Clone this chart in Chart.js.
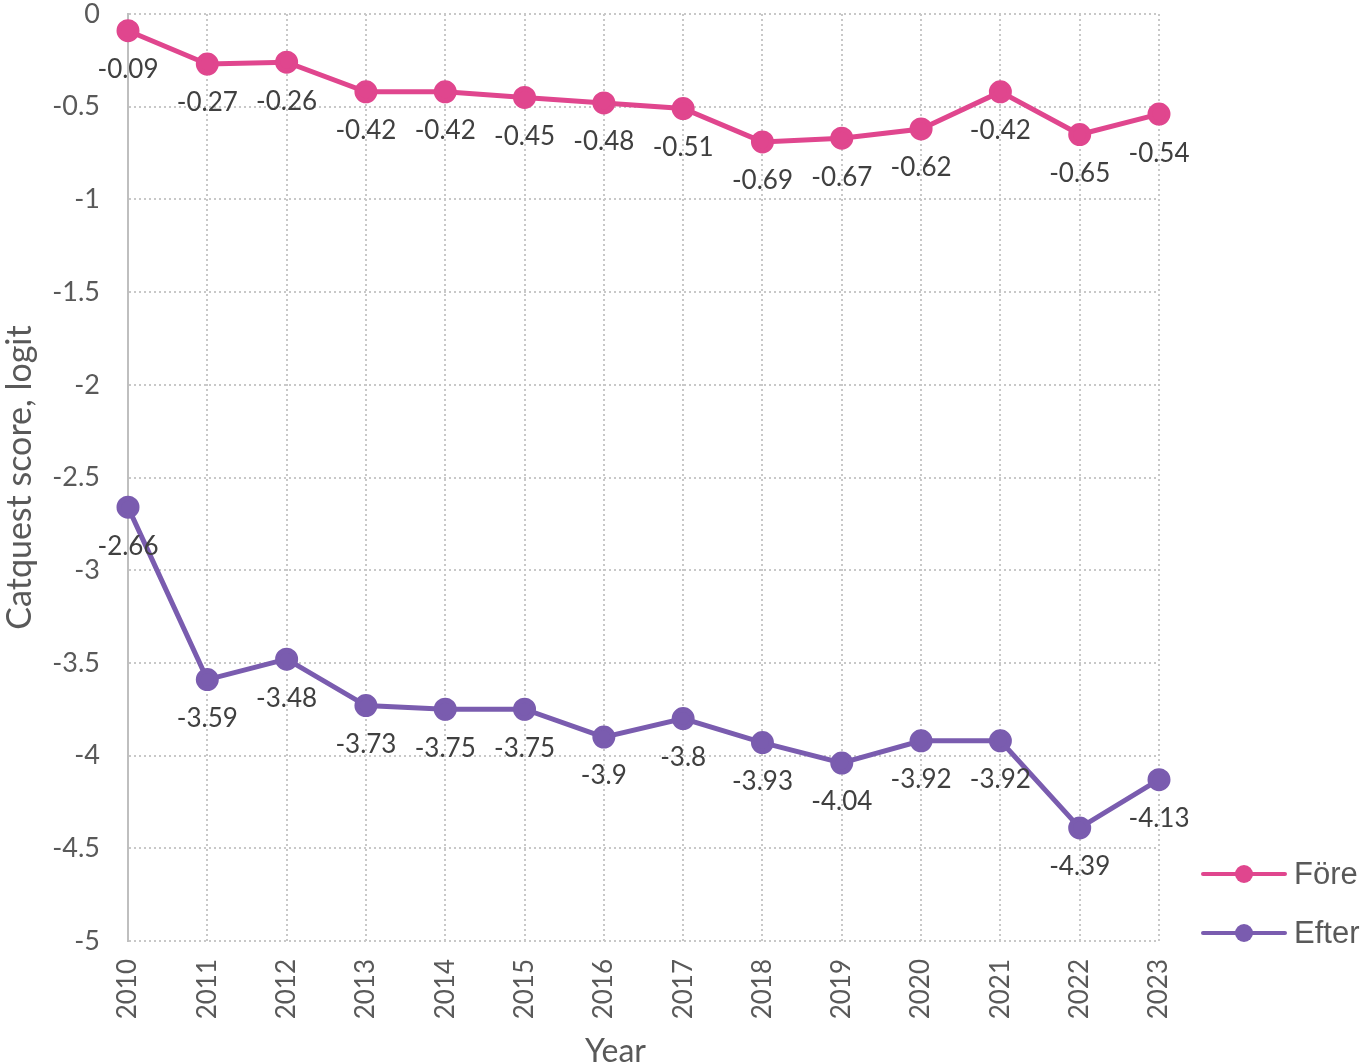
<!DOCTYPE html>
<html><head><meta charset="utf-8">
<script src="https://cdn.jsdelivr.net/npm/chart.js@4"></script>
<style>html,body{margin:0;padding:0;overflow:hidden;background:#fff}canvas{display:block}</style>
</head><body>
<canvas id="c" width="1366" height="1073"></canvas>
<script>
const years = ['2010','2011','2012','2013','2014','2015','2016','2017','2018','2019','2020','2021','2022','2023'];
const fore = [-0.09,-0.27,-0.26,-0.42,-0.42,-0.45,-0.48,-0.51,-0.69,-0.67,-0.62,-0.42,-0.65,-0.54];
const efter = [-2.66,-3.59,-3.48,-3.73,-3.75,-3.75,-3.9,-3.8,-3.93,-4.04,-3.92,-3.92,-4.39,-4.13];
const yTicks = [0,-0.5,-1,-1.5,-2,-2.5,-3,-3.5,-4,-4.5,-5];
const seriesNames = ['Före','Efter'];
const xTitle = 'Year';
const yTitle = 'Catquest score, logit';
const PINK = '#E0468E', PURPLE = '#7A5CAF';
const FONT = 'Lato, "Open Sans", sans-serif';
const H = 1073;

const labelPlugin = {
  id:'dl',
  afterDatasetsDraw(chart){
    const ctx = chart.ctx;
    ctx.save();
    ctx.font = '26px ' + FONT;
    ctx.fillStyle = '#404040';
    ctx.textAlign = 'center';
    ctx.textBaseline = 'middle';
    chart.data.datasets.forEach((ds,i)=>{
      chart.getDatasetMeta(i).data.forEach((pt,j)=>{
        ctx.fillText(String(ds.data[j]), pt.x, pt.y + 39);
      });
    });
    ctx.restore();
  }
};
const legendPlugin = {
  id:'lg',
  afterDraw(chart){
    const ctx = chart.ctx, a = chart.chartArea;
    ctx.save();
    chart.data.datasets.forEach((ds,i)=>{
      const y = a.bottom - 67 + i*59;
      const x0 = a.right + 44;
      ctx.strokeStyle = ds.borderColor; ctx.lineWidth = 4; ctx.lineCap='round';
      ctx.beginPath(); ctx.moveTo(x0,y); ctx.lineTo(x0+82,y); ctx.stroke();
      ctx.fillStyle = ds.borderColor;
      ctx.beginPath(); ctx.arc(x0+41,y,9,0,Math.PI*2); ctx.fill();
      ctx.fillStyle = '#595959';
      ctx.font = '31px "Liberation Sans", Arial, sans-serif';
      ctx.textAlign='left'; ctx.textBaseline='middle';
      ctx.fillText(ds.label, x0+91, y+1);
    });
    // x axis title, slightly left of centre as in the reference
    ctx.font = '32px ' + FONT;
    ctx.fillStyle = '#595959';
    ctx.textAlign = 'center'; ctx.textBaseline = 'middle';
    ctx.fillText(xTitle, (a.left + a.right)/2 - 28, H - 21);
    ctx.restore();
  }
};

new Chart(document.getElementById('c'), {
  type:'line',
  data:{
    labels: years,
    datasets:[
      {label:seriesNames[0], data:fore, borderColor:PINK, backgroundColor:PINK, borderWidth:5, pointRadius:9, pointHoverRadius:9, tension:0},
      {label:seriesNames[1], data:efter, borderColor:PURPLE, backgroundColor:PURPLE, borderWidth:5, pointRadius:9, pointHoverRadius:9, tension:0}
    ]
  },
  plugins:[labelPlugin, legendPlugin],
  options:{
    responsive:false, animation:false,
    layout:{padding:{top:14,right:207,left:0,bottom:0}},
    plugins:{legend:{display:false}, tooltip:{enabled:false}},
    scales:{
      x:{
        offset:false,
        grid:{color:'#c8c8c8', lineWidth:2, drawTicks:false},
        border:{display:false, dash:[2,3]},
        ticks:{color:'#595959', font:{family:FONT,size:26}, maxRotation:90, minRotation:90, padding:18, autoSkip:false},
        title:{display:false},
        afterFit(s){ s.height = H-941; s.paddingLeft = 0; s.paddingRight = 0; }
      },
      y:{
        min:-5, max:0,
        afterBuildTicks(s){ s.ticks = yTicks.map(v=>({value:v})); },
        grid:{color:'#c8c8c8', lineWidth:2, drawTicks:false},
        border:{display:true, color:'#bfbfbf', width:2, dash:[2,3]},
        ticks:{color:'#595959', font:{family:FONT,size:27}, padding:28, callback:v=>String(v)},
        title:{display:true, text:yTitle, color:'#595959', font:{family:FONT,size:34}, padding:{top:0,bottom:6}},
        afterFit(s){ s.width = 128; s.paddingTop = 0; s.paddingBottom = 0; }
      }
    }
  }
});
</script>
</body></html>
